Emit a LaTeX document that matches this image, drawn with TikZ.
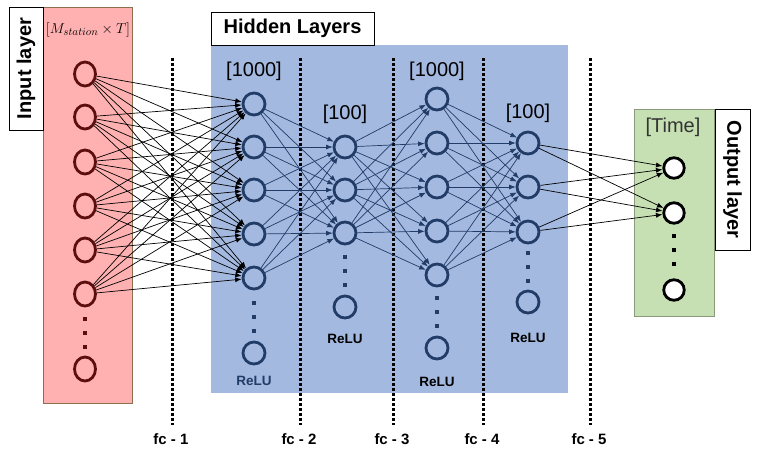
\documentclass[tikz,border=0pt]{standalone}
\usepackage{fontspec}
\setmainfont{Liberation Sans}
\usetikzlibrary{arrows.meta,shapes.geometric}
\definecolor{inpink}{HTML}{FFB1B1}
\definecolor{inedge}{HTML}{8B6F4E}
\definecolor{inring}{HTML}{5A0E0E}
\definecolor{hidblue}{HTML}{A4B9E0}
\definecolor{hidring}{HTML}{213C67}
\definecolor{outgreen}{HTML}{C6DFB3}
\definecolor{outedge}{HTML}{8A9A7A}
\tikzset{
  nin/.style={ellipse, draw=inring, line width=2.8pt, minimum width=21pt, minimum height=24pt, inner sep=0pt},
  nhid/.style={circle, draw=hidring, line width=2.8pt, minimum size=22pt, inner sep=0pt},
  nout/.style={circle, draw=black, fill=white, line width=2.8pt, minimum size=20.5pt, inner sep=0pt},
  conn/.style={-{Latex[length=6.5pt,width=5pt]}, line width=0.7pt},
  hconn/.style={conn, draw=hidring},
  fcline/.style={line width=3pt, dash pattern=on 3pt off 2pt},
  moredots/.style={line width=4pt, dash pattern=on 4pt off 10pt},
  tagbox/.style={draw=black, fill=white, line width=0.8pt, inner sep=0pt, font=\bfseries\fontsize{20}{24}\selectfont},
  sizelbl/.style={font=\fontsize{20}{24}\selectfont},
  relu/.style={font=\bfseries\fontsize{13.5}{16}\selectfont},
  fclbl/.style={font=\bfseries\fontsize{15}{18}\selectfont},
}
\begin{document}
\begin{tikzpicture}[x=1pt,y=-1pt]
  \useasboundingbox (0,0) rectangle (759,456);
  % layer panels
  \fill[inpink, draw=inedge, line width=0.8pt] (43,7) rectangle (132,403);
  \fill[hidblue] (211,45) rectangle (568,393);
  \fill[outgreen, draw=outedge, line width=0.8pt] (634,109) rectangle (714,316);
  \node[tagbox, rotate=90, minimum width=123pt, minimum height=34pt] (intag) at (26,68.5) {Input layer};
  \node[tagbox, minimum width=163pt, minimum height=33pt] (hidtag) at (292.5,28.5) {Hidden Layers};
  \node[tagbox, rotate=-90, minimum width=141pt, minimum height=35pt] (outtag) at (732.5,179.5) {Output layer};

  % fc separators
  \foreach \x [count=\k] in {172,300,393,483,590} {
    \coordinate (fctop\k) at (\x,58);
    \coordinate (fcbot\k) at (\x,425);
    \draw[fcline] (fctop\k) -- (fcbot\k);
    \node[fclbl] (fc\k) at (\x-1,439) {fc - \k};
  }

  % neurons
  \foreach \y [count=\k] in {74,117,162,206,250,294}
    \node[nin] (in\k) at (85,\y) {};
  \node[nin] (inN) at (85,369) {};
  \foreach \y [count=\k] in {104,147,190,234,278}
    \node[nhid] (ha\k) at (254,\y) {};
  \node[nhid] (haN) at (254,353) {};
  \foreach \y [count=\k] in {147,190,233}
    \node[nhid] (hb\k) at (345,\y) {};
  \node[nhid] (hbN) at (345,307) {};
  \foreach \y [count=\k] in {99,143,187,231,275}
    \node[nhid] (hc\k) at (437,\y) {};
  \node[nhid] (hcN) at (437,348) {};
  \foreach \y [count=\k] in {143,187,232}
    \node[nhid] (hd\k) at (528,\y) {};
  \node[nhid] (hdN) at (528,302) {};
  \foreach \y [count=\k] in {168,213}
    \node[nout] (out\k) at (674,\y) {};
  \node[nout] (outN) at (674,290) {};

  % vertical ellipses
  \draw[moredots, inring] (85,317) -- (85,350);
  \draw[moredots, hidring] (254,301) -- (254,334);
  \draw[moredots, hidring] (345,255) -- (345,288);
  \draw[moredots, hidring] (437,296) -- (437,329);
  \draw[moredots, hidring] (528,251) -- (528,284);
  \draw[moredots, black] (674,234) -- (674,267);

  % fully connected layers
  \foreach \i in {1,...,6}
    \foreach \j in {1,...,5}
      \draw[conn] (in\i) -- (ha\j);
  \foreach \i in {1,...,5}
    \foreach \j in {1,...,3}
      \draw[hconn] (ha\i) -- (hb\j);
  \foreach \i in {1,...,3}
    \foreach \j in {1,...,5}
      \draw[hconn] (hb\i) -- (hc\j);
  \foreach \i in {1,...,5}
    \foreach \j in {1,...,3}
      \draw[hconn] (hc\i) -- (hd\j);
  \foreach \i in {1,...,3}
    \foreach \j in {1,2}
      \draw[conn] (hd\i) -- (out\j);

  % sizes and activations
  \node[font=\fontsize{15}{18}\selectfont, inner sep=0pt] (insize) at (88,30) {$\left[M_{station}\times T\right]$};
  \node[sizelbl] (hasize) at (254,71) {[1000]};
  \node[sizelbl] (hbsize) at (345,114) {[100]};
  \node[sizelbl] (hcsize) at (437,71) {[1000]};
  \node[sizelbl] (hdsize) at (528,113) {[100]};
  \node[sizelbl, text=black!80] (outsize) at (673,127) {[Time]};
  \node[relu, text=hidring] (harelu) at (254,381) {ReLU};
  \node[relu] (hbrelu) at (345,339) {ReLU};
  \node[relu] (hcrelu) at (437,382) {ReLU};
  \node[relu] (hdrelu) at (528,338) {ReLU};
\end{tikzpicture}
\end{document}
